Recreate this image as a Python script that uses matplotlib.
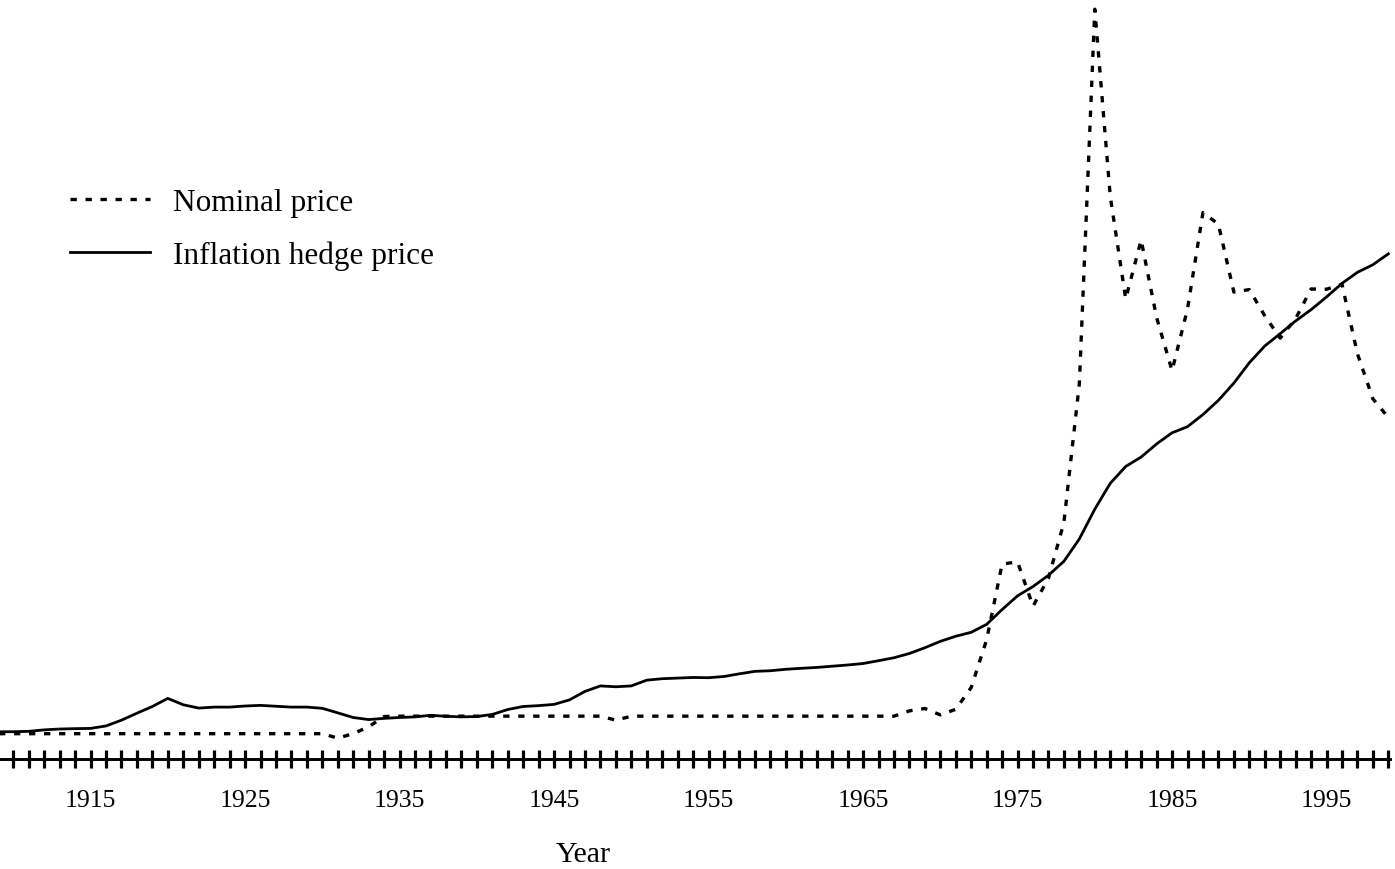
import matplotlib
matplotlib.use("Agg")
import matplotlib.pyplot as plt
from matplotlib.ticker import FixedLocator, NullFormatter

plt.rcParams["font.family"] = ["Liberation Serif", "DejaVu Serif"]

# años 1909..1999 ($/oz)
years = list(range(1909, 2000))

nominal = [
    20.67, 20.67, 20.67, 20.67, 20.67, 20.67, 20.67, 20.67, 20.67, 20.67,  # 1909-1918
    20.67, 20.67, 20.67, 20.67, 20.67, 20.67, 20.67, 20.67, 20.67, 20.67,  # 1919-1928
    20.67, 20.67, 17.06, 20.69, 26.33, 34.69, 35.00, 35.00, 35.00, 35.00,  # 1929-1938
    35.00, 35.00, 35.00, 35.00, 35.00, 35.00, 35.00, 35.00, 35.00, 35.00,  # 1939-1948
    31.69, 35.00, 35.00, 35.00, 35.00, 35.00, 35.00, 35.00, 35.00, 35.00,  # 1949-1958
    35.00, 35.00, 35.00, 35.00, 35.00, 35.00, 35.00, 35.00, 35.00, 39.31,  # 1959-1968
    41.28, 36.02, 40.62, 58.42, 97.39, 159.26, 161.02, 124.84, 147.71, 193.22,  # 1969-1978
    306.68, 612.56, 459.64, 375.91, 424.00, 360.66, 317.26, 367.66, 446.46, 436.94,  # 1979-1988
    381.44, 383.51, 362.11, 343.82, 359.77, 384.00, 383.79, 387.81, 331.02, 294.24,  # 1989-1998
    278.98,  # 1999
]

hedge = [
    22.2, 22.3, 22.6, 23.8, 24.5, 24.8, 25.0, 27.0, 31.7, 37.4,  # 1909-1918
    42.9, 49.5, 44.3, 41.6, 42.4, 42.4, 43.3, 43.8, 43.1, 42.4,  # 1919-1928
    42.4, 41.4, 37.7, 33.9, 32.2, 33.2, 33.9, 34.4, 35.7, 34.9,  # 1929-1938
    34.4, 34.7, 36.4, 40.4, 42.9, 43.6, 44.6, 48.3, 55.2, 59.7,  # 1939-1948
    59.0, 59.7, 64.4, 65.6, 66.1, 66.6, 66.4, 67.4, 69.6, 71.6,  # 1949-1958
    72.1, 73.3, 74.1, 74.8, 75.8, 76.8, 78.0, 80.3, 82.7, 86.2,  # 1959-1968
    90.9, 96.1, 100.3, 103.5, 110.0, 122.1, 133.3, 140.9, 150.1, 161.5,  # 1969-1978
    179.8, 204.1, 225.2, 239.0, 246.7, 257.4, 266.5, 271.5, 281.4, 293.0,  # 1979-1988
    307.1, 323.7, 337.4, 347.5, 357.9, 367.1, 377.5, 388.6, 397.6, 403.8,  # 1989-1998
    412.7,  # 1999
]

label_years = list(range(1915, 2000, 10))
tick_years = list(range(1910, 2000))

fig = plt.figure(figsize=(13.95, 8.7), dpi=100)
ax = fig.add_axes([0.0, 0.12644, 0.99642, 0.87356])

ax.plot(years, nominal, color="black", lw=2.4, linestyle=(0, (1.9, 2.6)),
        label="Nominal price")
ax.plot(years, hedge, color="black", lw=2.0, label="Inflation hedge price")

ax.set_xlim(1909.139, 1999.107)
ax.set_ylim(0, 620.9)

for s in ("left", "right", "top"):
    ax.spines[s].set_visible(False)
ax.spines["bottom"].set_linewidth(2.1)
ax.set_yticks([])

ax.xaxis.set_major_locator(FixedLocator(label_years))
ax.xaxis.set_minor_locator(FixedLocator(tick_years))
ax.xaxis.set_minor_formatter(NullFormatter())
ax.tick_params(axis="x", which="both", direction="inout", length=13.5,
               width=2.3, color="black")
ax.tick_params(axis="x", which="major", pad=15.0, labelsize=18.5)

fig.text(583 / 1395, (870 - 862) / 870, "Year", ha="center", va="baseline",
         fontsize=21.5)

leg = ax.legend(loc="upper left", bbox_to_anchor=(0.0504, 0.7515), frameon=False,
                fontsize=22.5, handlelength=2.56, handletextpad=0.74,
                labelspacing=0.77, borderpad=0, borderaxespad=0)

fig.savefig("out.png", dpi=100)
plt.close(fig)
